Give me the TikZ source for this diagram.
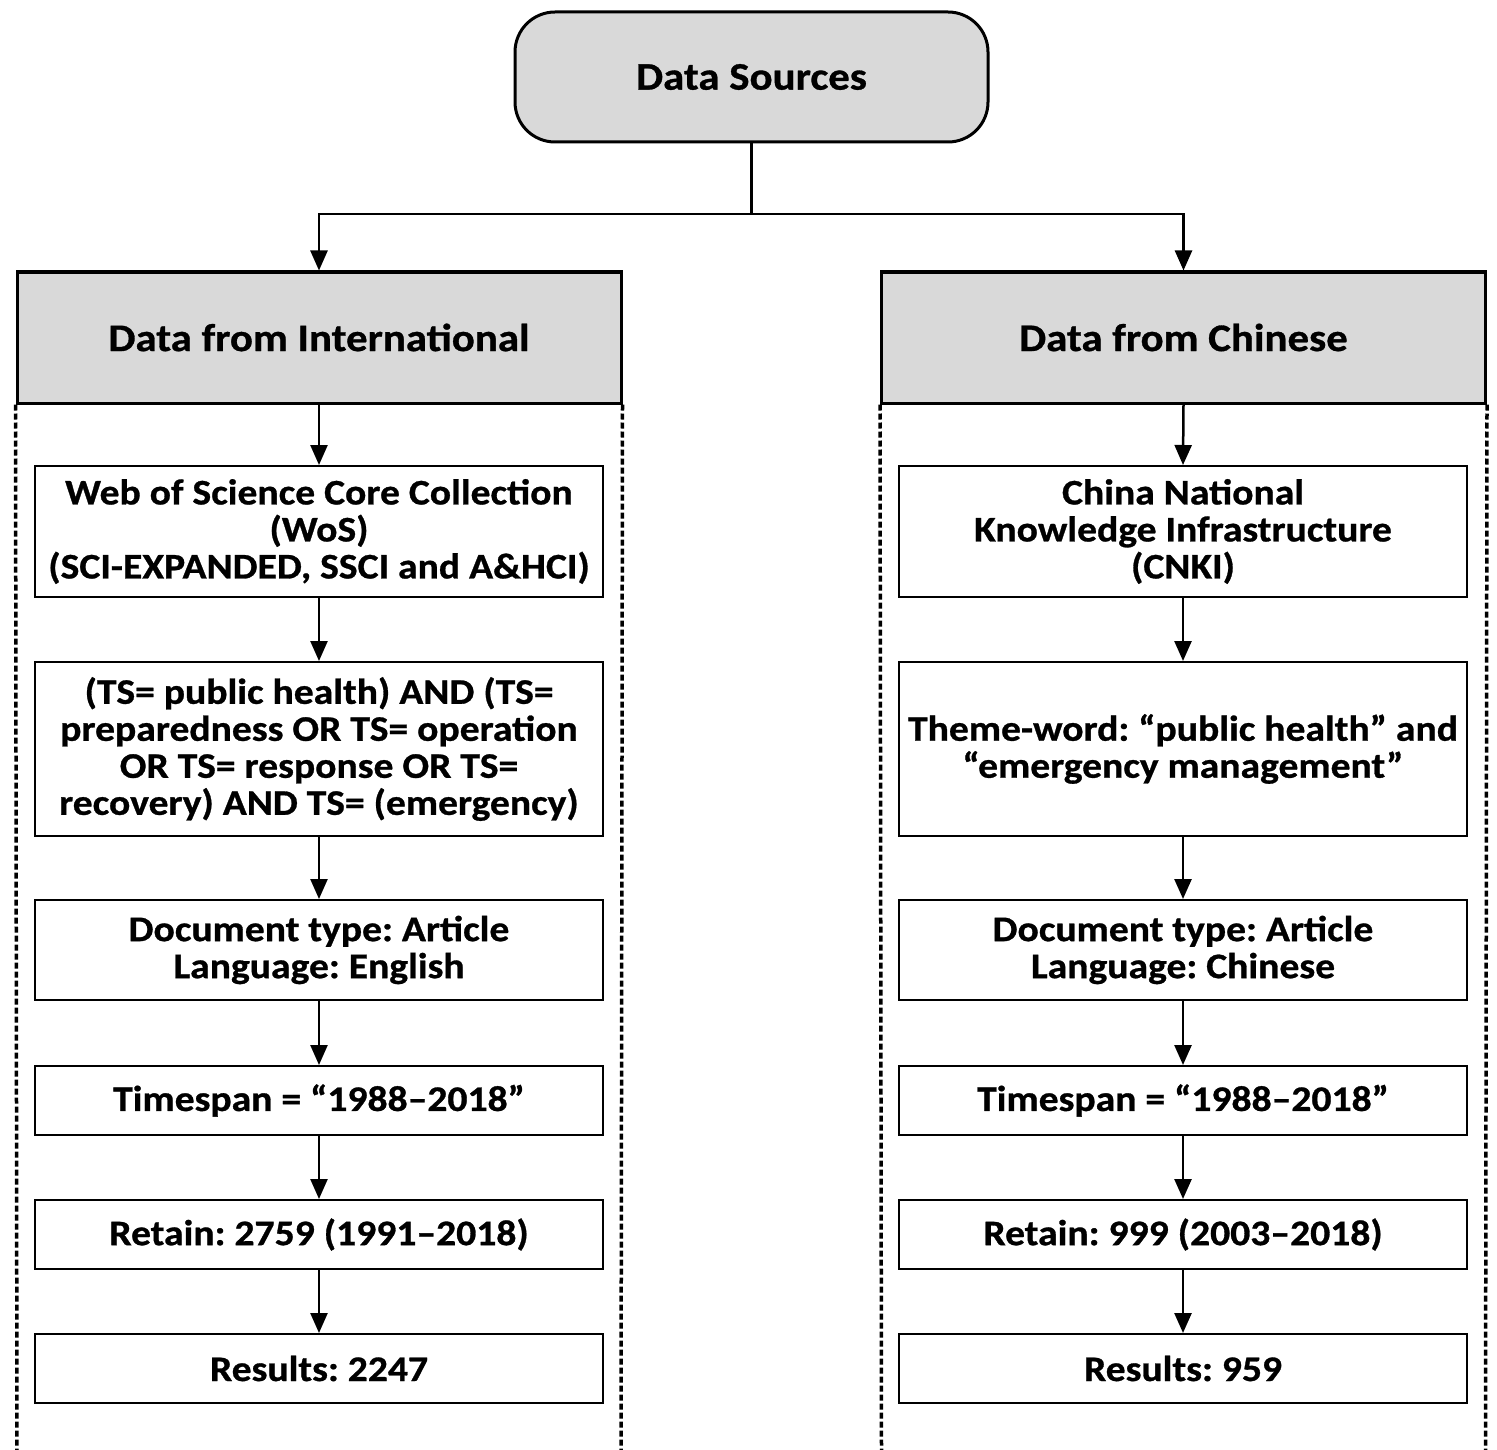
\documentclass[tikz,border=0pt]{standalone}
\usepackage{fontspec}
\setmainfont{Carlito}[FakeStretch=1.1, BoldFeatures={FakeBold=0.8}]
\frenchspacing
\usetikzlibrary{arrows.meta,positioning}
\tikzset{
  every node/.style={font=\bfseries\fontsize{36}{37}\selectfont},
  topbox/.style={draw=black, line width=3pt, fill=gray!30, rounded corners=40pt, minimum width=473pt, minimum height=130pt, inner sep=0pt, font=\bfseries\fontsize{39}{40}\selectfont},
  headbox/.style={draw=black, line width=3pt, fill=gray!30, minimum width=604pt, minimum height=131pt, inner sep=0pt, font=\bfseries\fontsize{39}{40}\selectfont},
  stepbox/.style={draw=black, line width=2pt, fill=white, minimum width=568pt, inner sep=0pt, align=center},
  conn/.style={line width=2.5pt, -{Triangle[length=20pt,width=17pt]}},
  plain/.style={line width=2.5pt},
  sideline/.style={line width=3.5pt, dash pattern=on 6pt off 3pt}
}
\begin{document}
\begin{tikzpicture}[x=1pt,y=-1pt]
\useasboundingbox (0,0) rectangle (1497,1450);
\node[topbox] (ds) at (751.5,77) {Data Sources};
\node[headbox] (hl) at (319,337.5) {Data from International};
\node[headbox] (hr) at (1183.5,337.5) {Data from Chinese};
% left column
\node[stepbox, minimum height=131pt] (l1) at (319,531.5) {Web of Science Core Collection\\(WoS)\\(SCI-EXPANDED, SSCI and A\&HCI)};
\node[stepbox, minimum height=174pt] (l2) at (319,749) {(TS= public health) AND (TS=\\preparedness OR TS= operation\\OR TS= response OR TS=\\recovery) AND TS= (emergency)};
\node[stepbox, minimum height=100pt] (l3) at (319,950) {Document type: Article\\Language: English};
\node[stepbox, minimum height=69pt] (l4) at (319,1100.5) {Timespan = “1988–2018”};
\node[stepbox, minimum height=69pt] (l5) at (319,1234.5) {Retain: 2759 (1991–2018)};
\node[stepbox, minimum height=69pt] (l6) at (319,1368.5) {Results: 2247};
% right column
\node[stepbox, minimum height=131pt] (r1) at (1183,531.5) {China National\\Knowledge Infrastructure\\(CNKI)};
\node[stepbox, minimum height=174pt] (r2) at (1183,749) {Theme-word: “public health” and\\“emergency management”};
\node[stepbox, minimum height=100pt] (r3) at (1183,950) {Document type: Article\\Language: Chinese};
\node[stepbox, minimum height=69pt] (r4) at (1183,1100.5) {Timespan = “1988–2018”};
\node[stepbox, minimum height=69pt] (r5) at (1183,1234.5) {Retain: 999 (2003–2018)};
\node[stepbox, minimum height=69pt] (r6) at (1183,1368.5) {Results: 959};
% connectors
\coordinate (split) at (751.5,214);
\coordinate (splitl) at (319,214);
\coordinate (splitr) at (1183.5,214);
\draw[plain] (ds.south) -- (split);
\draw[conn] (split) -- (splitl) -- (hl.north);
\draw[conn] (split) -- (splitr) -- (hr.north);
\foreach \a/\b in {hl/l1,l1/l2,l2/l3,l3/l4,l4/l5,l5/l6,hr/r1,r1/r2,r2/r3,r3/r4,r4/r5,r5/r6}
  \draw[conn] (\a.south) -- (\b.north);
% side dotted lines
\coordinate (bl1) at (17,1450);
\coordinate (bl2) at (621,1450);
\coordinate (br1) at (881.5,1450);
\coordinate (br2) at (1485.5,1450);
\draw[sideline] (hl.south west) -- (bl1);
\draw[sideline] (hl.south east) -- (bl2);
\draw[sideline] (hr.south west) -- (br1);
\draw[sideline] (hr.south east) -- (br2);
\end{tikzpicture}
\end{document}
